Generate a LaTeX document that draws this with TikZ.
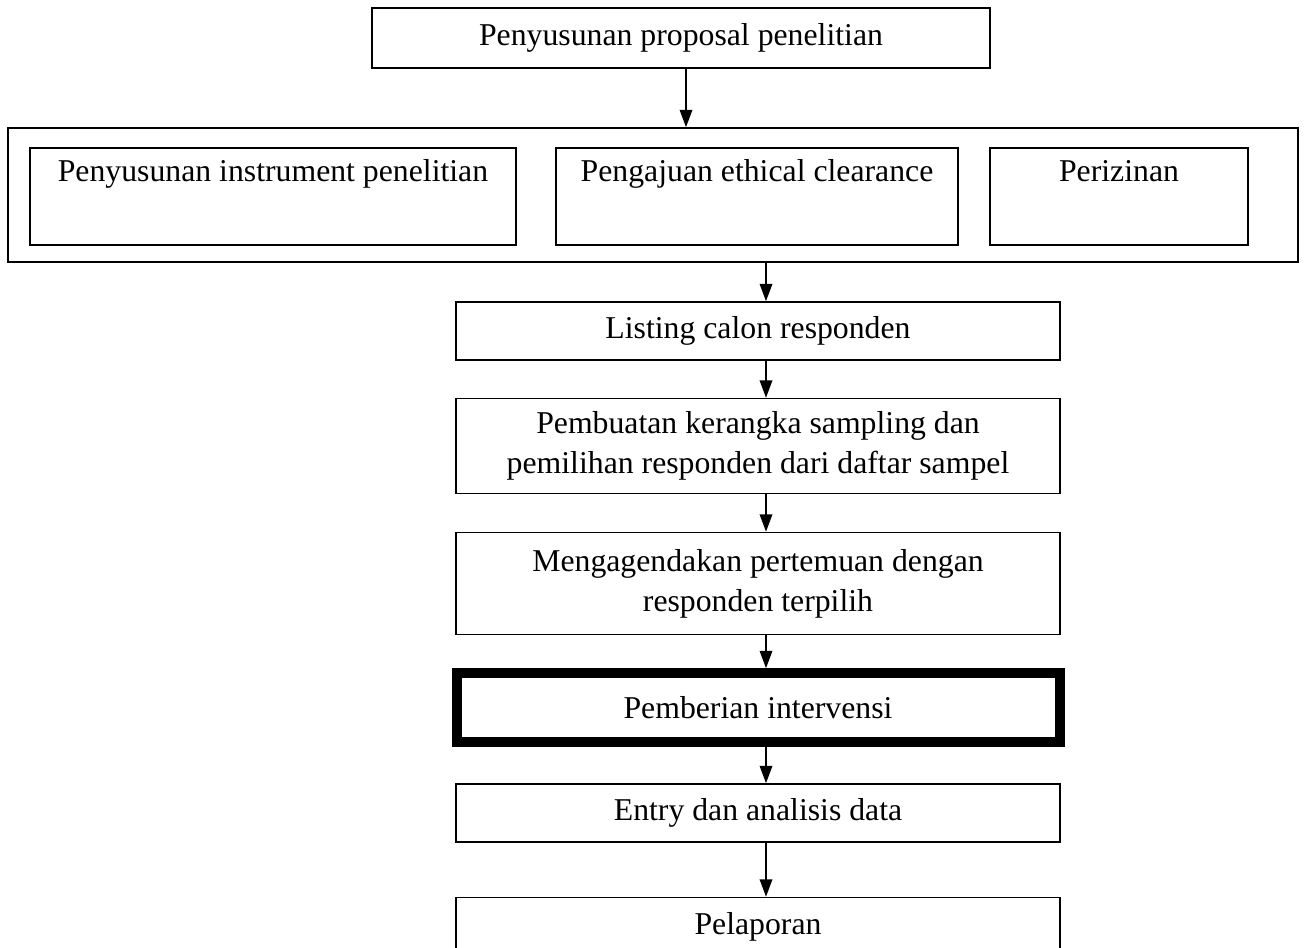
\documentclass[tikz,border=0pt]{standalone}
\usepackage{fontspec}
\setmainfont{Liberation Serif}
\usetikzlibrary{arrows.meta,positioning}

\begin{document}
\begin{tikzpicture}
[x=0.4pt, y=-0.4pt, node distance=15pt, font=\fontsize{12.7pt}{16pt}\selectfont,
% STYLES
% The stepbox style is used for each step of the research flow
stepbox/.style={rectangle, draw, line width=0.6pt, minimum width=241.6pt, align=center, inner sep=2pt},
% The prepbox style is used for the boxes inside the preparation frame (text on top)
prepbox/.style={rectangle, draw, line width=0.6pt, minimum height=38.8pt, text height=9.5pt, text depth=21.3pt, inner ysep=4pt, inner xsep=0pt},
% The flow style is used for the arrows between the steps
flow/.style={-{Triangle[length=7pt,width=5pt]}, line width=0.8pt}]

\useasboundingbox (0,0) rectangle (1306,947);

% Draw proposal and preparation
\node [stepbox, minimum width=247.2pt, minimum height=24pt] (proposal) at (681,38) {Penyusunan proposal penelitian};
\node [draw, line width=0.6pt, minimum width=516pt, minimum height=53.6pt] (prep) at (653,195) {};
\node [prepbox, minimum width=194.4pt] (instrumen) at (273,196.5) {Penyusunan instrument penelitian};
\node [prepbox, minimum width=160.8pt] (ethical) at (757,196.5) {Pengajuan ethical clearance};
\node [prepbox, minimum width=103.2pt] (izin) at (1119,196.5) {Perizinan};

%%%%%%%%%%%%%%%
% Steps of the research

\node [stepbox, minimum height=23.2pt] (listing) at (758,331) {Listing calon responden};
\node [stepbox, minimum height=38pt, below=14.8pt of listing] (sampling) {Pembuatan kerangka sampling dan\\pemilihan responden dari daftar sampel};
\node [stepbox, minimum height=40.8pt, below=of sampling] (pertemuan) {Mengagendakan pertemuan dengan\\responden terpilih};
\node [stepbox, line width=4pt, minimum width=241.2pt, minimum height=27.6pt, below=13.2pt of pertemuan] (intervensi) {Pemberian intervensi};
\node [stepbox, minimum height=23.2pt, below=14.4pt of intervensi] (entry) {Entry dan analisis data};
\node [stepbox, minimum height=23.2pt, below=21.6pt of entry] (lapor) {Pelaporan};

%%%%%%%%%%%%%%%%

% Draw the links between steps
\coordinate (top-x) at (686,0);
\coordinate (main-x) at (766,0);
\path[flow]
(top-x |- proposal.south) edge (top-x |- prep.north)
(main-x |- prep.south) edge (main-x |- listing.north)
(main-x |- listing.south) edge (main-x |- sampling.north)
(main-x |- sampling.south) edge (main-x |- pertemuan.north)
(main-x |- pertemuan.south) edge (main-x |- intervensi.north)
(main-x |- intervensi.south) edge (main-x |- entry.north)
(main-x |- entry.south) edge (main-x |- lapor.north);

\end{tikzpicture}
\end{document}
